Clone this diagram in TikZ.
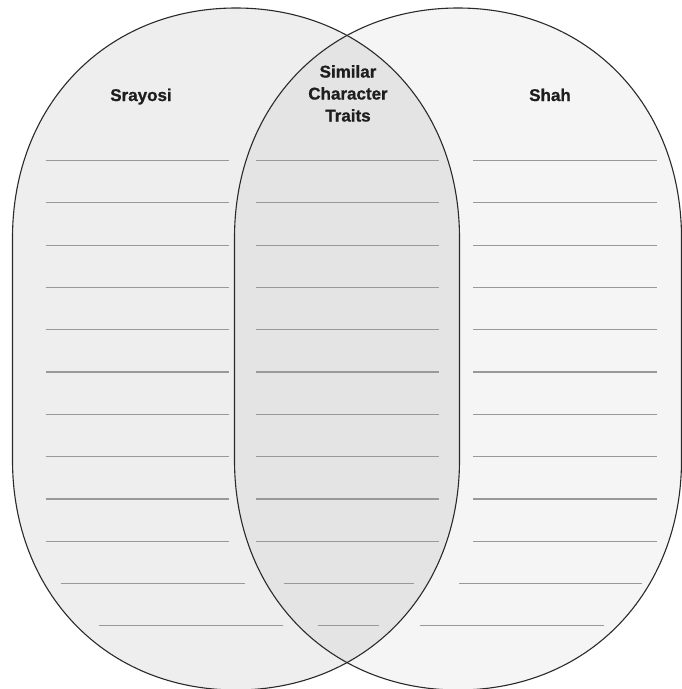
\documentclass[tikz,border=0pt]{standalone}
\usepackage{fontspec}
\setmainfont{Liberation Sans}
\newfontfamily\headfont{Liberation Sans Bold}[FakeBold=0.9]
\definecolor{leftfill}{HTML}{EEEEEE}
\definecolor{rightfill}{HTML}{F5F5F5}
\definecolor{midfill}{HTML}{E4E4E4}
\definecolor{rulegray}{HTML}{999999}
\definecolor{edgecol}{HTML}{2A2A2A}
\definecolor{txtcol}{HTML}{1E1E1E}
\tikzset{
  writeline/.style={draw=rulegray, line width=1.2pt},
  outline/.style={draw=edgecol, line width=1.1pt},
  heading/.style={font=\fontsize{17}{22}\selectfont\headfont, text=txtcol, align=center, inner sep=0pt}
}
\def\leftshape{(12.5,238) -- (12.5,460) .. controls (12.5,593.4) and (106.4,690) .. (236,690) .. controls (365.6,690) and (459.5,593.4) .. (459.5,460) -- (459.5,238) .. controls (459.5,104.6) and (365.6,8) .. (236,8) .. controls (106.4,8) and (12.5,104.6) .. (12.5,238) -- cycle}
\def\rightshape{(234.5,238) -- (234.5,460) .. controls (234.5,593.4) and (328.4,690) .. (458,690) .. controls (587.6,690) and (681.5,593.4) .. (681.5,460) -- (681.5,238) .. controls (681.5,104.6) and (587.6,8) .. (458,8) .. controls (328.4,8) and (234.5,104.6) .. (234.5,238) -- cycle}
\begin{document}
\begin{tikzpicture}[x=1pt,y=-1pt]
\useasboundingbox (0,0) rectangle (682,689);
\fill[white] (0,0) rectangle (682,689);
\fill[leftfill] \leftshape;
\fill[rightfill] \rightshape;
\begin{scope}
  \clip \leftshape;
  \fill[midfill] \rightshape;
\end{scope}
% writing lines
\foreach \yy in {160.5,202.8,245.1,287.4,329.7,372,414.3,456.6,498.9,541.2}{
  \draw[writeline] (45.7,\yy) -- (229.3,\yy);
  \draw[writeline] (256,\yy) -- (439.3,\yy);
  \draw[writeline] (473.3,\yy) -- (656.7,\yy);
}
\draw[writeline] (61,583.5) -- (245,583.5);
\draw[writeline] (283.7,583.5) -- (413.5,583.5);
\draw[writeline] (458.8,583.5) -- (642.3,583.5);
\draw[writeline] (99.3,625.8) -- (283.2,625.8);
\draw[writeline] (318,625.8) -- (378.6,625.8);
\draw[writeline] (419.6,625.8) -- (604,625.8);
% outlines
\draw[outline] \leftshape;
\draw[outline] \rightshape;
% headings
\node[heading, anchor=base] (srayosi) at (141,101) {Srayosi};
\node[heading, anchor=base] (shah) at (550,101) {Shah};
\node[heading, anchor=north] (similar) at (348,65) {Similar\\Character\\Traits};
\end{tikzpicture}
\end{document}
